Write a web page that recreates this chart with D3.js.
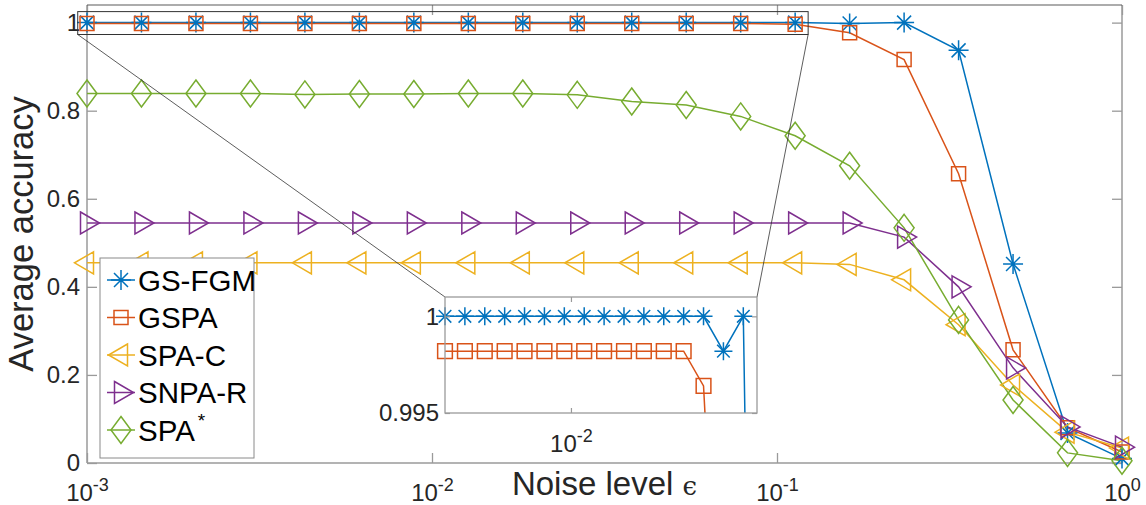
<!DOCTYPE html>
<html>
<head>
<meta charset="utf-8">
<script src="https://cdn.jsdelivr.net/npm/d3@7"></script>
<style>
  html, body { margin: 0; padding: 0; background: #fff; }
  svg { display: block; }
  text { font-family: "Liberation Sans", Arial, Helvetica, sans-serif; }
</style>
</head>
<body>
<svg id="chart" width="1146" height="505"></svg>
<script>
// ---------------- data ----------------
const noiseLevels = [0.001, 0.0014384, 0.0020691, 0.0029764, 0.0042813, 0.0061585, 0.0088587,
  0.012743, 0.018330, 0.026367, 0.037927, 0.054556, 0.078476, 0.11288, 0.16238, 0.23357,
  0.33598, 0.48329, 0.69519, 1.0];
const seriesNames = ["GS-FGM", "GSPA", "SPA-C", "SNPA-R", "SPA*"];
const gsfgm  = [1, 1, 1, 1, 1, 1, 1, 1, 1, 1, 1, 1, 1, 1, 0.9982, 1, 0.937, 0.452, 0.068, 0.01];
const gspa   = [0.9982, 0.9982, 0.9982, 0.9982, 0.9982, 0.9982, 0.9982, 0.9982, 0.9982, 0.9982,
  0.9982, 0.9982, 0.9982, 0.9964, 0.977, 0.916, 0.657, 0.257, 0.08, 0.025];
const spac   = [0.4545, 0.4545, 0.4545, 0.4545, 0.4545, 0.4545, 0.4545, 0.4545, 0.4545, 0.4545,
  0.4545, 0.4545, 0.4545, 0.4545, 0.451, 0.416, 0.314, 0.177, 0.07, 0.034];
const snpar  = [0.545, 0.545, 0.545, 0.545, 0.545, 0.545, 0.545, 0.545, 0.545, 0.545,
  0.545, 0.545, 0.545, 0.545, 0.545, 0.513, 0.40, 0.216, 0.082, 0.036];
const spastar = [0.839, 0.839, 0.839, 0.839, 0.837, 0.838, 0.838, 0.839, 0.839, 0.836,
  0.821, 0.813, 0.787, 0.743, 0.675, 0.534, 0.325, 0.143, 0.023, 0.005];
const yTicks = [0, 0.2, 0.4, 0.6, 0.8, 1];
const yTickLabels = ["0", "0.2", "0.4", "0.6", "0.8", "1"];
const xTicks = [1e-3, 1e-2, 1e-1, 1];
const xTickExponents = ["-3", "-2", "-1", "0"];
const insetYTicks = [0.995, 1];
const insetYTickLabels = ["0.995", "1"];
const insetXTicks = [1e-2];
const insetXTickExponents = ["-2"];
// zoom region marked on the main axes (data units)
const zoomX = [9.4e-4, 0.1231];
const zoomY = [0.973, 1.025];

const colors = ["#0072BD", "#D95319", "#EDB120", "#7E2F8E", "#77AC30"];
const markers = ["star", "square", "tleft", "tright", "diamond"];
const allSeries = [gsfgm, gspa, spac, snpar, spastar];

// ---------------- layout ----------------
const svg = d3.select("#chart");
const L = 87, R = 1122, T = 5, B = 463;
const x = d3.scaleLog().domain([1e-3, 1]).range([L, R]);
const y = d3.scaleLinear().domain([0, 1.04]).range([B, T]);
const axisColor = "#9a9a9a";
const labelColor = "#262626";
const tickFont = 24, supFont = 18;

function markerPath(type, k) {
  k = k || 1;
  const f = v => (v * k).toFixed(2);
  switch (type) {
    case "star":
      return `M${f(-10)},0H${f(10)}M0,${f(-10)}V${f(10)}M${f(-7)},${f(-7)}L${f(7)},${f(7)}M${f(-7)},${f(7)}L${f(7)},${f(-7)}`;
    case "square":
      return `M${f(-7)},${f(-7)}H${f(7)}V${f(7)}H${f(-7)}Z`;
    case "diamond":
      return `M0,${f(-13.5)}L${f(10)},0L0,${f(13.5)}L${f(-10)},0Z`;
    case "tright":
      return `M${f(-6.5)},${f(-11)}L${f(12.5)},0L${f(-6.5)},${f(11)}Z`;
    case "tleft":
      return `M${f(6.5)},${f(-11)}L${f(-12.5)},0L${f(6.5)},${f(11)}Z`;
  }
}

function powerLabels(sel, exps, yPos) {
  sel.each(function (d, i) {
    const t = d3.select(this);
    t.attr("y", yPos).attr("dy", null).attr("fill", labelColor).attr("font-size", tickFont)
      .attr("text-anchor", "middle").attr("font-family", null);
    t.text(null);
    t.append("tspan").text("10");
    t.append("tspan").attr("font-size", supFont).attr("dy", -10).text(exps[i]);
  });
}

// ---------------- main axes ----------------
const gAxes = svg.append("g");

const gx = gAxes.append("g").attr("transform", `translate(0,${B})`)
  .call(d3.axisBottom(x).tickValues(xTicks).tickSizeInner(-10).tickSizeOuter(0).tickFormat(() => ""));
gx.select(".domain").remove();
gx.selectAll(".tick line").attr("stroke", axisColor).attr("stroke-width", 1.3);
powerLabels(gx.selectAll(".tick text"), xTickExponents, 38);

const gxt = gAxes.append("g").attr("transform", `translate(0,${T})`)
  .call(d3.axisTop(x).tickValues(xTicks).tickSizeInner(-10).tickSizeOuter(0).tickFormat(() => ""));
gxt.select(".domain").remove();
gxt.selectAll(".tick line").attr("stroke", axisColor).attr("stroke-width", 1.3);

const gy = gAxes.append("g").attr("transform", `translate(${L},0)`)
  .call(d3.axisLeft(y).tickValues(yTicks).tickSizeInner(-10).tickSizeOuter(0).tickPadding(7)
    .tickFormat((d, i) => yTickLabels[i]));
gy.select(".domain").remove();
gy.selectAll(".tick line").attr("stroke", axisColor).attr("stroke-width", 1.3);
gy.selectAll(".tick text").attr("fill", labelColor).attr("font-size", tickFont).attr("font-family", null);

const gyr = gAxes.append("g").attr("transform", `translate(${R},0)`)
  .call(d3.axisRight(y).tickValues(yTicks).tickSizeInner(-10).tickSizeOuter(0).tickFormat(() => ""));
gyr.select(".domain").remove();
gyr.selectAll(".tick line").attr("stroke", axisColor).attr("stroke-width", 1.3);

// frame
gAxes.append("line").attr("x1", L).attr("x2", R).attr("y1", B).attr("y2", B).attr("stroke", axisColor).attr("stroke-width", 1.5);
gAxes.append("line").attr("x1", L).attr("x2", L).attr("y1", T).attr("y2", B).attr("stroke", axisColor).attr("stroke-width", 1.5);
gAxes.append("line").attr("x1", R).attr("x2", R).attr("y1", T).attr("y2", B).attr("stroke", axisColor).attr("stroke-width", 1.5);
gAxes.append("line").attr("x1", L).attr("x2", R).attr("y1", T).attr("y2", T).attr("stroke", "#5a5a5a").attr("stroke-width", 1.2);

// axis labels
svg.append("text").attr("x", (L + R) / 2).attr("y", 495).attr("text-anchor", "middle")
  .attr("font-size", 33).attr("fill", labelColor)
  .call(t => {
    t.append("tspan").text("Noise level ");
    t.append("tspan").attr("font-family", "'DejaVu Serif', serif").attr("font-size", 26).text("\u03F5");
  });
svg.append("text").attr("transform", `translate(33,${(T + B) / 2}) rotate(-90)`)
  .attr("text-anchor", "middle").attr("font-size", 34.5).attr("fill", labelColor)
  .text("Average accuracy");

// ---------------- series ----------------
const gMain = svg.append("g");
allSeries.forEach((vals, si) => {
  const pts = noiseLevels.map((n, i) => [n, vals[i]]);
  gMain.append("path").attr("d", d3.line().x(d => x(d[0])).y(d => y(d[1]))(pts)).attr("fill", "none")
    .attr("stroke", colors[si]).attr("stroke-width", 1.5);
});
allSeries.forEach((vals, si) => {
  const pts = noiseLevels.map((n, i) => [n, vals[i]]);
  gMain.selectAll(null).data(pts).enter().append("path")
    .attr("transform", d => `translate(${x(d[0])},${y(d[1])})`)
    .attr("d", markerPath(markers[si], 1))
    .attr("fill", "none").attr("stroke", colors[si]).attr("stroke-width", 1.5);
});

// ---------------- zoom box & connectors ----------------
const zx0 = x(zoomX[0]), zx1 = x(zoomX[1]), zy0 = y(zoomY[1]), zy1 = y(zoomY[0]);
const IL = 445, IR = 757, IT = 297, IB = 413;
svg.append("rect").attr("x", zx0).attr("y", zy0).attr("width", zx1 - zx0).attr("height", zy1 - zy0)
  .attr("fill", "none").attr("stroke", "#333").attr("stroke-width", 1);
svg.append("line").attr("x1", zx0).attr("y1", zy1).attr("x2", IL).attr("y2", IT).attr("stroke", "#333").attr("stroke-width", 0.8);
svg.append("line").attr("x1", zx1).attr("y1", zy1).attr("x2", IR).attr("y2", IT).attr("stroke", "#333").attr("stroke-width", 0.8);

// ---------------- legend ----------------
const gLeg = svg.append("g");
gLeg.append("rect").attr("x", 100).attr("y", 258).attr("width", 154).attr("height", 200)
  .attr("fill", "#fff").attr("stroke", "#8a8a8a").attr("stroke-width", 1);
seriesNames.forEach((name, i) => {
  const cy = 280 + i * 37.5;
  gLeg.append("line").attr("x1", 107).attr("x2", 135).attr("y1", cy).attr("y2", cy)
    .attr("stroke", colors[i]).attr("stroke-width", 1.5);
  gLeg.append("path").attr("transform", `translate(121,${cy})`).attr("d", markerPath(markers[i], 1))
    .attr("fill", "none").attr("stroke", colors[i]).attr("stroke-width", 1.5);
  const t = gLeg.append("text").attr("x", 138).attr("y", cy + 10.5).attr("font-size", 29.5).attr("fill", "#000");
  if (name.endsWith("*")) {
    t.append("tspan").text(name.slice(0, -1));
    t.append("tspan").attr("font-size", 19).attr("dx", 3).attr("dy", -14).text("*");
  } else {
    t.text(name);
  }
});

// ---------------- inset ----------------
const xi = d3.scaleLog().domain([1e-3, 0.3]).range([IL, IR]);
const yi = d3.scaleLinear().domain([0.995, 1.001]).range([IB, IT]);
const gIn = svg.append("g");
gIn.append("rect").attr("x", IL).attr("y", IT).attr("width", IR - IL).attr("height", IB - IT).attr("fill", "#fff");
svg.append("defs").append("clipPath").attr("id", "insetClip").append("rect")
  .attr("x", IL).attr("y", IT).attr("width", IR - IL).attr("height", IB - IT);

const gInData = gIn.append("g").attr("clip-path", "url(#insetClip)");
[0, 1].forEach(si => {
  const vals = allSeries[si];
  const pts = noiseLevels.map((n, i) => [n, vals[i]]);
  gInData.append("path").attr("d", d3.line().x(d => xi(d[0])).y(d => yi(d[1]))(pts))
    .attr("fill", "none").attr("stroke", colors[si]).attr("stroke-width", 1.5);
});
[0, 1].forEach(si => {
  const vals = allSeries[si];
  const pts = noiseLevels.map((n, i) => [n, vals[i]])
    .filter(d => d[0] <= 0.3 && d[1] >= 0.995 && d[1] <= 1.001);
  gIn.selectAll(null).data(pts).enter().append("path")
    .attr("transform", d => `translate(${xi(d[0])},${yi(d[1])})`)
    .attr("d", markerPath(markers[si], si === 0 ? 0.9 : 1.05))
    .attr("fill", "none").attr("stroke", colors[si]).attr("stroke-width", 1.5);
});
const gix = gIn.append("g").attr("transform", `translate(0,${IB})`)
  .call(d3.axisBottom(xi).tickValues(insetXTicks).tickSizeInner(-5).tickSizeOuter(0).tickFormat(() => ""));
gix.select(".domain").remove();
gix.selectAll(".tick line").attr("stroke", axisColor).attr("stroke-width", 1.2);
powerLabels(gix.selectAll(".tick text"), insetXTickExponents, 39);
const gixt = gIn.append("g").attr("transform", `translate(0,${IT})`)
  .call(d3.axisTop(xi).tickValues(insetXTicks).tickSizeInner(-5).tickSizeOuter(0).tickFormat(() => ""));
gixt.select(".domain").remove();
gixt.selectAll(".tick line").attr("stroke", axisColor).attr("stroke-width", 1.2);
const giy = gIn.append("g").attr("transform", `translate(${IL},0)`)
  .call(d3.axisLeft(yi).tickValues(insetYTicks).tickSizeInner(-5).tickSizeOuter(0).tickPadding(6)
    .tickFormat((d, i) => insetYTickLabels[i]));
giy.select(".domain").remove();
giy.selectAll(".tick line").attr("stroke", axisColor).attr("stroke-width", 1.2);
giy.selectAll(".tick text").attr("fill", labelColor).attr("font-size", tickFont).attr("font-family", null);
const giyr = gIn.append("g").attr("transform", `translate(${IR},0)`)
  .call(d3.axisRight(yi).tickValues(insetYTicks).tickSizeInner(-5).tickSizeOuter(0).tickFormat(() => ""));
giyr.select(".domain").remove();
giyr.selectAll(".tick line").attr("stroke", axisColor).attr("stroke-width", 1.2);
gIn.append("rect").attr("x", IL).attr("y", IT).attr("width", IR - IL).attr("height", IB - IT)
  .attr("fill", "none").attr("stroke", axisColor).attr("stroke-width", 1.3);
</script>
</body>
</html>
